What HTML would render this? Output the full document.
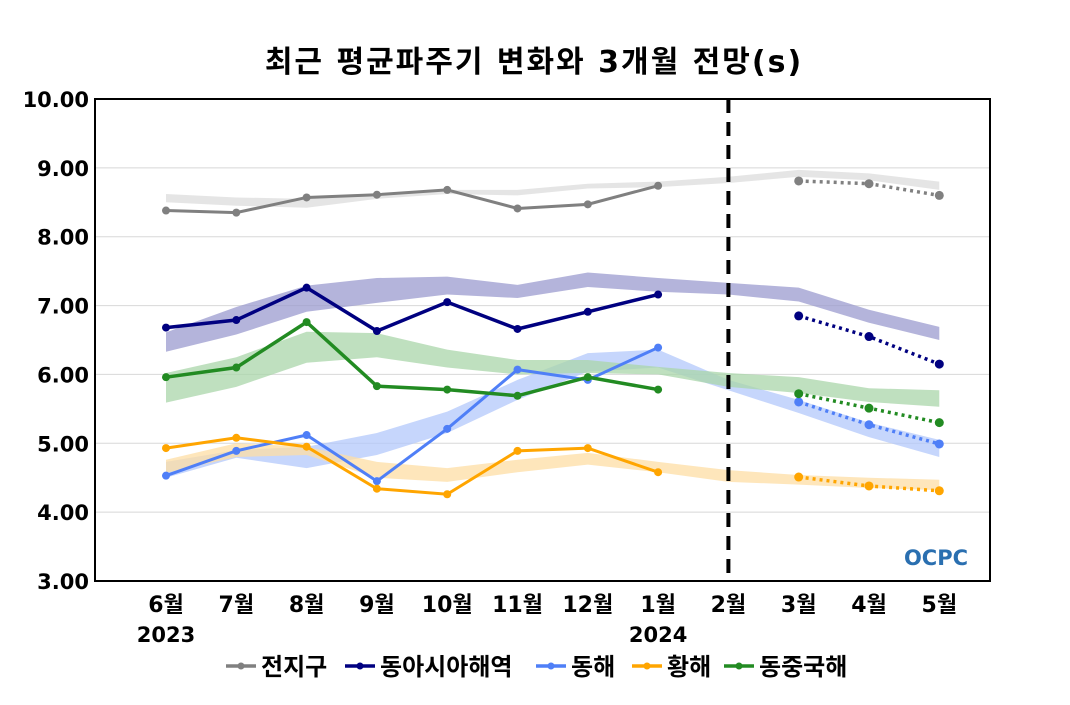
<!DOCTYPE html>
<html><head><meta charset="utf-8"><style>
body{margin:0;background:#fff;}
svg text{font-family:"DejaVu Sans","Noto Sans CJK KR",sans-serif;font-weight:bold;fill:#000;}
</style></head><body>
<svg id="chart" width="1070" height="700" xmlns="http://www.w3.org/2000/svg">
<text x="534" y="72" text-anchor="middle" font-size="30" letter-spacing="2">최근 평균파주기 변화와 3개월 전망(s)</text>
<g id="grid"></g><g id="bands"></g><g id="lines"></g><g id="axes"></g>
<g><text x="936" y="565" text-anchor="middle" font-size="21" style="fill:#2a6fb0">OCPC</text></g>
<g id="legend"></g>
</svg>
<script>
const months=['6월','7월','8월','9월','10월','11월','12월','1월','2월','3월','4월','5월'];
const yTicks=[3,4,5,6,7,8,9,10];
const seriesNames=['전지구','동아시아해역','동해','황해','동중국해'];
const seriesColors=['#808080','#000080','#4f7ff7','#ffa500','#228b22'];
const bandColors=['#dcdcdc','#9b9bcf','#b3c8fb','#fedda4','#a9d5a9'];
const obsGlobal=[8.38,8.35,8.57,8.61,8.68,8.41,8.47,8.74];
const obsEastAsia=[6.68,6.79,7.26,6.63,7.05,6.66,6.91,7.16];
const obsEastSea=[4.53,4.89,5.12,4.45,5.21,6.07,5.92,6.39];
const obsYellow=[4.93,5.08,4.95,4.34,4.26,4.89,4.93,4.58];
const obsECS=[5.96,6.10,6.76,5.83,5.78,5.69,5.96,5.78];
const fcGlobal=[8.81,8.77,8.60];
const fcEastAsia=[6.85,6.55,6.15];
const fcEastSea=[5.60,5.27,4.99];
const fcYellow=[4.51,4.38,4.31];
const fcECS=[5.72,5.51,5.30];
const bandUpGlobal=[8.62,8.57,8.55,8.62,8.68,8.68,8.77,8.80,8.87,8.97,8.92,8.80];
const bandLoGlobal=[8.50,8.45,8.42,8.55,8.62,8.60,8.70,8.72,8.78,8.87,8.82,8.68];
const bandUpEastAsia=[6.61,6.98,7.29,7.40,7.42,7.30,7.48,7.40,7.33,7.26,6.94,6.69];
const bandLoEastAsia=[6.33,6.58,6.91,7.04,7.16,7.11,7.27,7.20,7.16,7.06,6.75,6.50];
const bandUpEastSea=[4.73,4.90,4.95,5.15,5.46,5.92,6.31,6.36,5.92,5.63,5.30,5.05];
const bandLoEastSea=[4.50,4.79,4.64,4.83,5.15,5.63,6.04,6.10,5.77,5.44,5.09,4.80];
const bandUpYellow=[4.76,5.00,4.95,4.73,4.64,4.76,4.86,4.73,4.61,4.54,4.50,4.47];
const bandLoYellow=[4.57,4.80,4.83,4.50,4.44,4.58,4.69,4.58,4.44,4.40,4.35,4.32];
const bandUpECS=[6.02,6.25,6.62,6.60,6.36,6.21,6.21,6.11,6.02,5.96,5.80,5.77];
const bandLoECS=[5.59,5.82,6.17,6.25,6.10,6.00,6.02,6.00,5.82,5.73,5.60,5.53];

const obs=[obsGlobal,obsEastAsia,obsEastSea,obsYellow,obsECS];
const fc=[fcGlobal,fcEastAsia,fcEastSea,fcYellow,fcECS];
const bUp=[bandUpGlobal,bandUpEastAsia,bandUpEastSea,bandUpYellow,bandUpECS];
const bLo=[bandLoGlobal,bandLoEastAsia,bandLoEastSea,bandLoYellow,bandLoECS];
const NS='http://www.w3.org/2000/svg';
const L=95,R=990,T=99,B=581;
const x=i=>166+i*70.3;
const y=v=>B-(v-3)*(B-T)/7;
function mk(p,tag,at){const e=document.createElementNS(NS,tag);for(const k in at)e.setAttribute(k,at[k]);p.appendChild(e);return e;}
const G=id=>document.getElementById(id);
yTicks.forEach(v=>{
 const l=mk(G('grid'),'line',{x1:L,x2:R,y1:y(v),y2:y(v),stroke:'#d8d8d8','stroke-width':1});
 
 
 const t=mk(G('axes'),'text',{x:89,y:y(v)+8,'text-anchor':'end','font-size':21});
 
 
 t.textContent=v.toFixed(2);
});
const fr=mk(G('axes'),'rect',{x:L,y:T,width:R-L,height:B-T,fill:'none',stroke:'#000','stroke-width':2});


const dl=mk(G('axes'),'line',{x1:x(8),x2:x(8),y1:T,y2:B,stroke:'#000','stroke-width':4,'stroke-dasharray':'14,9'});


months.forEach((m,i)=>{
 const t=mk(G('axes'),'text',{x:x(i),y:612,'text-anchor':'middle','font-size':22});
 
 
 t.textContent=m;
});
[[0,'2023'],[7,'2024']].forEach(([i,s])=>{
 const t=mk(G('axes'),'text',{x:x(i),y:642,'text-anchor':'middle','font-size':21});
 
 
 t.textContent=s;
});
bUp.forEach((up,s)=>{
 const lo=bLo[s];
 let d=up.map((v,i)=>(i?'L':'M')+x(i)+','+y(v)).join(' ');
 for(let i=lo.length-1;i>=0;i--)d+=' L'+x(i)+','+y(lo[i]);
 const p=mk(G('bands'),'path',{d:d+'Z',fill:bandColors[s],opacity:0.75});
 
 
});
const widths=[3,3.5,3,3,3.5];
obs.forEach((arr,s)=>{
 const c=seriesColors[s];
 const pl=mk(G('lines'),'polyline',{points:arr.map((v,i)=>x(i)+','+y(v)).join(' '),fill:'none',stroke:c,'stroke-width':widths[s]});
 
 
 arr.forEach((v,i)=>{const ci=mk(G('lines'),'circle',{cx:x(i),cy:y(v),r:4,fill:c});
  
  });
 const f=fc[s];
 const fl=mk(G('lines'),'polyline',{points:f.map((v,i)=>x(i+9)+','+y(v)).join(' '),fill:'none',stroke:c,'stroke-width':3.5,'stroke-dasharray':'3,4'});
 
 
 f.forEach((v,i)=>{const ci=mk(G('lines'),'circle',{cx:x(i+9),cy:y(v),r:4.5,fill:c});
  
  });
});
const lx=[226,345,536,632,724];
seriesNames.forEach((n,s)=>{
 const g=mk(G('legend'),'g',{});
 
 
 mk(g,'line',{x1:lx[s],x2:lx[s]+30,y1:666,y2:666,stroke:seriesColors[s],'stroke-width':3.5});
 mk(g,'circle',{cx:lx[s]+15,cy:666,r:3.5,fill:seriesColors[s]});
 const t=mk(g,'text',{x:lx[s]+35,y:675,'font-size':24});
 t.textContent=n;
});
</script>
</body></html>
